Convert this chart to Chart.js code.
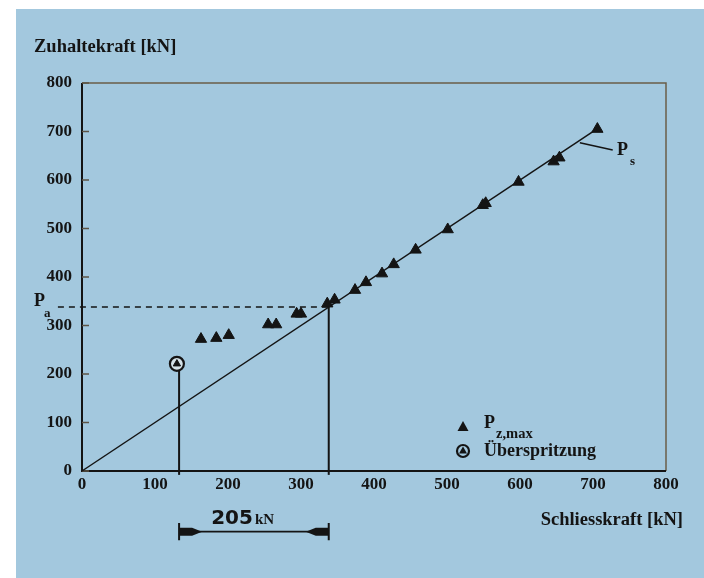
<!DOCTYPE html>
<html>
<head>
<meta charset="utf-8">
<script src="https://cdn.jsdelivr.net/npm/chart.js@4.4.1/dist/chart.umd.min.js"></script>
<style>
  html, body { margin: 0; padding: 0; background: #fff; }
  #c { display: block; }
</style>
</head>
<body>
<canvas id="c" width="704" height="578"></canvas>
<script>
// values
const axisTicks = [0, 100, 200, 300, 400, 500, 600, 700, 800];
const pzmaxX = [163, 184, 201, 255, 266, 294, 300, 336, 346, 374, 389, 411, 427, 457, 501, 549, 553, 598, 646, 654, 706];
const pzmaxY = [272, 274, 280, 302, 302, 324, 324, 345, 353, 373, 389, 407, 426, 456, 498, 548, 552, 596, 638, 646, 705];
const ueberX = [130];
const ueberY = [221];
const diagX = [0, 705];
const diagY = [0, 705];
const paLevel = 338;          // P_a
const schliessA = 133;        // left vertical
const schliessB = 338;        // right vertical
const spanLevel = -125;       // height of the 205 kN dimension arrow
const spanLabel = '205';
const psLeaderX = [682, 727];
const psLeaderY = [677, 662];

const ink = '#141414';
const bg = '#a3c8de';
const serif = '"Liberation Serif", "DejaVu Serif", serif';

function pts(xs, ys) {
  return xs.map((x, i) => ({ x: x, y: ys[i] }));
}

const background = {
  id: 'background',
  beforeDraw(chart) {
    const ctx = chart.ctx;
    ctx.save();
    ctx.fillStyle = '#ffffff';
    ctx.fillRect(0, 0, chart.width, chart.height);
    ctx.fillStyle = bg;
    ctx.fillRect(16, 9, chart.width - 16, chart.height - 9);
    ctx.restore();
  }
};

const frame = {
  id: 'frame',
  beforeDatasetsDraw(chart) {
    const { ctx, chartArea: a, scales } = chart;
    ctx.save();
    ctx.lineWidth = 1.5;
    ctx.strokeStyle = '#6b5d48';
    ctx.beginPath();
    ctx.moveTo(a.left, a.top);
    ctx.lineTo(a.right, a.top);
    ctx.lineTo(a.right, a.bottom);
    ctx.stroke();
    ctx.strokeStyle = ink;
    ctx.lineWidth = 2;
    ctx.beginPath();
    ctx.moveTo(a.left, a.top);
    ctx.lineTo(a.left, a.bottom);
    ctx.lineTo(a.right, a.bottom);
    ctx.stroke();
    // small inner ticks on the y axis
    ctx.lineWidth = 1.5;
    ctx.strokeStyle = '#5d5446';
    axisTicks.forEach((v) => {
      const y = scales.y.getPixelForValue(v);
      ctx.beginPath();
      ctx.moveTo(a.left, y);
      ctx.lineTo(a.left + 7, y);
      ctx.stroke();
    });
    ctx.restore();
  }
};

const texts = {
  id: 'texts',
  afterDraw(chart) {
    const { ctx, scales } = chart;
    const x = scales.x, y = scales.y;
    ctx.save();
    ctx.fillStyle = ink;
    ctx.textBaseline = 'middle';

    ctx.font = 'bold 18.5px ' + serif;
    ctx.textAlign = 'left';
    ctx.fillText('Zuhaltekraft [kN]', 34, 47);
    ctx.textAlign = 'right';
    ctx.fillText('Schliesskraft [kN]', 683, 520);

    // P_a
    ctx.textAlign = 'left';
    ctx.font = 'bold 18px ' + serif;
    ctx.fillText('P', 34, y.getPixelForValue(paLevel) - 6);
    ctx.font = 'bold 13px ' + serif;
    ctx.fillText('a', 44, y.getPixelForValue(paLevel) + 7);

    // P_s
    ctx.font = 'bold 18px ' + serif;
    ctx.fillText('P', 617, 150);
    ctx.font = 'bold 13px ' + serif;
    ctx.fillText('s', 630, 162);

    // 205 kN dimension arrow: thick tapered heads sitting on the end bars
    const xa = x.getPixelForValue(schliessA);
    const xb = x.getPixelForValue(schliessB);
    const ys = y.getPixelForValue(spanLevel);
    [[xa, 1], [xb, -1]].forEach(([px, dir]) => {
      ctx.beginPath();
      ctx.moveTo(px, ys - 4);
      ctx.lineTo(px + dir * 13, ys - 4);
      ctx.lineTo(px + dir * 23, ys);
      ctx.lineTo(px + dir * 13, ys + 4);
      ctx.lineTo(px, ys + 4);
      ctx.closePath();
      ctx.fill();
    });
    const mid = (xa + xb) / 2;
    ctx.font = 'bold 20px "DejaVu Sans", sans-serif';
    ctx.textAlign = 'right';
    ctx.fillText(spanLabel, mid - 1, 519);
    ctx.font = 'bold 15px ' + serif;
    ctx.textAlign = 'left';
    ctx.fillText('kN', mid + 1, 520);

    // legend
    const lx = 463;
    ctx.beginPath();
    ctx.moveTo(lx, 421);
    ctx.lineTo(lx + 5.5, 431);
    ctx.lineTo(lx - 5.5, 431);
    ctx.closePath();
    ctx.fill();
    ctx.font = 'bold 18px ' + serif;
    ctx.fillText('P', 484, 423);
    ctx.font = 'bold 14.5px ' + serif;
    ctx.fillText('z,max', 496, 434);

    ctx.beginPath();
    ctx.arc(lx, 451, 6, 0, Math.PI * 2);
    ctx.lineWidth = 2.2;
    ctx.strokeStyle = ink;
    ctx.stroke();
    ctx.beginPath();
    ctx.moveTo(lx, 446.5);
    ctx.lineTo(lx + 4, 453.5);
    ctx.lineTo(lx - 4, 453.5);
    ctx.closePath();
    ctx.fill();
    ctx.font = 'bold 18px ' + serif;
    ctx.fillText('Überspritzung', 484, 451);
    ctx.restore();
  }
};

const lineStyle = { showLine: true, pointRadius: 0, borderColor: ink, clip: false, order: 5 };

new Chart(document.getElementById('c'), {
  type: 'scatter',
  data: {
    datasets: [
      { ...lineStyle, data: pts(diagX, diagY), borderWidth: 1.5 },
      { ...lineStyle, data: [{ x: -33, y: paLevel }, { x: schliessB, y: paLevel }], borderWidth: 1.5, borderDash: [6, 5] },
      { ...lineStyle, data: [{ x: schliessA, y: -8 }, { x: schliessA, y: ueberY[0] - 8 }], borderWidth: 2 },
      { ...lineStyle, data: [{ x: schliessB, y: -8 }, { x: schliessB, y: paLevel }], borderWidth: 2 },
      { ...lineStyle, data: pts(psLeaderX, psLeaderY), borderWidth: 1.5 },
      // dimension arrow below the axis
      { ...lineStyle, data: [{ x: schliessA, y: spanLevel }, { x: schliessB, y: spanLevel }], borderWidth: 1.6 },
      { ...lineStyle, data: [{ x: schliessA, y: spanLevel + 18 }, { x: schliessA, y: spanLevel - 18 }], borderWidth: 2 },
      { ...lineStyle, data: [{ x: schliessB, y: spanLevel + 18 }, { x: schliessB, y: spanLevel - 18 }], borderWidth: 2 },
      {
        label: 'Pz,max', data: pts(pzmaxX, pzmaxY), pointStyle: 'triangle', pointRadius: 6.5,
        backgroundColor: ink, borderColor: ink, borderWidth: 1, order: 1
      },
      {
        label: 'Überspritzung', data: pts(ueberX, ueberY), pointStyle: 'circle', pointRadius: 7,
        backgroundColor: '#d4e2e8', borderColor: ink, borderWidth: 2.2, order: 2
      },
      {
        data: pts(ueberX, ueberY), pointStyle: 'triangle', pointRadius: 4.2,
        backgroundColor: ink, borderColor: ink, borderWidth: 1, order: 1
      }
    ]
  },
  options: {
    responsive: false,
    animation: false,
    devicePixelRatio: 1,
    layout: { padding: { top: 83, right: 38, left: 0, bottom: 0 } },
    plugins: { legend: { display: false }, tooltip: { enabled: false } },
    scales: {
      x: {
        type: 'linear', min: 0, max: 800,
        afterFit: (scale) => { scale.height = 107; },
        afterBuildTicks: (scale) => { scale.ticks = axisTicks.map((v) => ({ value: v })); },
        grid: { display: false, drawTicks: false },
        border: { display: false },
        ticks: { color: ink, padding: 3, font: { family: serif, size: 17, weight: 'bold' } }
      },
      y: {
        type: 'linear', min: 0, max: 800,
        afterFit: (scale) => { scale.width = 82; },
        afterBuildTicks: (scale) => { scale.ticks = axisTicks.map((v) => ({ value: v })); },
        grid: { display: false, drawTicks: false },
        border: { display: false },
        ticks: { color: ink, padding: 10, font: { family: serif, size: 17, weight: 'bold' } }
      }
    }
  },
  plugins: [background, frame, texts]
});
</script>
</body>
</html>
